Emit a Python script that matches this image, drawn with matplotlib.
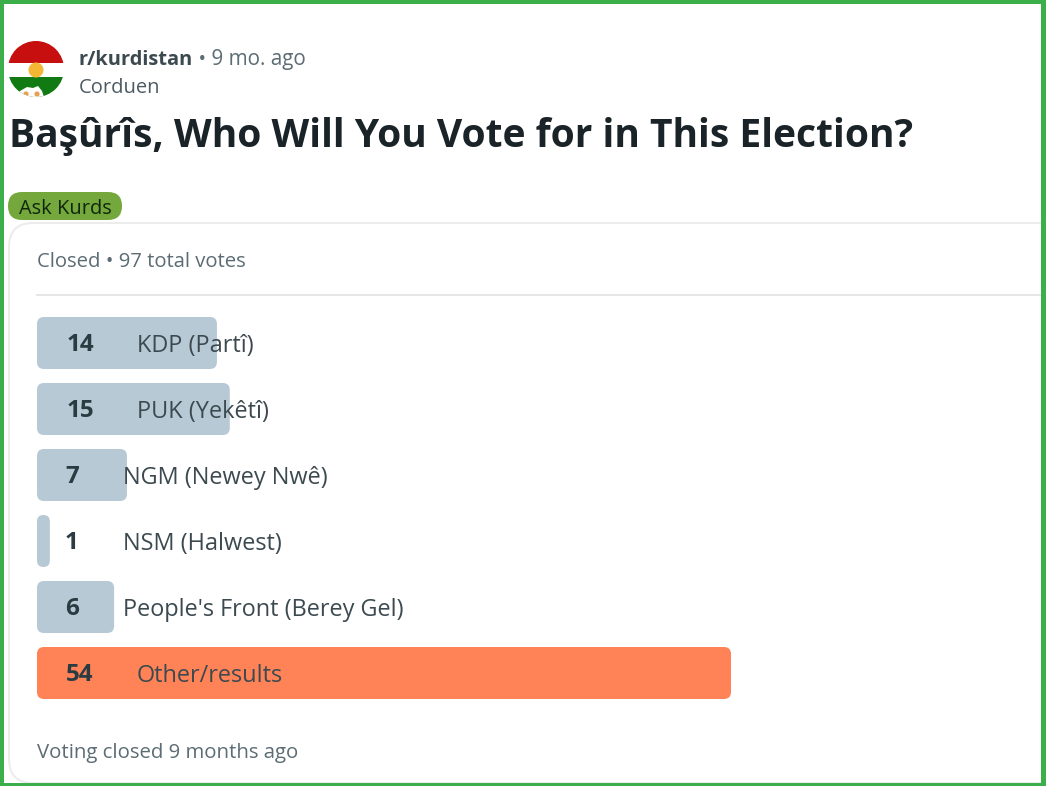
import numpy as np
import matplotlib
matplotlib.use('Agg')
import matplotlib.pyplot as plt
from matplotlib.patches import FancyBboxPatch, Circle, Rectangle, Polygon

plt.rcParams['font.family'] = ['Open Sans', 'Noto Sans', 'DejaVu Sans']

options = ['KDP (Partî)', 'PUK (Yekêtî)', 'NGM (Newey Nwê)', 'NSM (Halwest)',
           "People's Front (Berey Gel)", 'Other/results']
votes = [14, 15, 7, 1, 6, 54]
title = 'Başûrîs, Who Will You Vote for in This Election?'
community = 'r/kurdistan'
age = ' • 9 mo. ago'
author = 'Corduen'
flair = 'Ask Kurds'
poll_status = 'Closed • 97 total votes'
poll_footer = 'Voting closed 9 months ago'

W, H = 1046, 786
px = 1 / 100

fig = plt.figure(figsize=(W * px, H * px), dpi=100, facecolor='white')

# page furniture, in pixel coordinates
bg = fig.add_axes([0, 0, 1, 1])
bg.set_xlim(0, W)
bg.set_ylim(H, 0)
bg.axis('off')

# poll card
bg.add_patch(FancyBboxPatch((9, 223), 1100, 560, boxstyle='round,pad=0,rounding_size=24',
                            fc='white', ec='#ececec', lw=1.5))
bg.plot([37, W], [294.5, 294.5], color='#e4e4e4', lw=1.3)

# flair
bg.add_patch(FancyBboxPatch((8, 192), 114, 28, boxstyle='round,pad=0,rounding_size=14',
                            fc='#74a83c', ec='none'))
bg.text(65, 209, flair, fontsize=14.4, color='#10260c', ha='center', va='center')

# avatar
clip = Circle((36, 69), 28, transform=bg.transData)
parts = [
    Rectangle((8, 41), 56, 22, fc='#c80f0f', ec='none'),
    Rectangle((8, 77), 56, 20, fc='#127a12', ec='none'),
    Polygon([(16, 97), (20, 91), (27, 87), (33, 88), (38, 86), (42, 91), (44, 97)],
            fc='white', ec='none'),
    Circle((36, 70), 7.5, fc='#f4b733', ec='none'),
    Circle((26, 94), 2.6, fc='#e8a050', ec='none'),
    Circle((37, 94), 2.6, fc='#e8a050', ec='none'),
]
for p in parts:
    bg.add_patch(p)
    p.set_clip_path(clip)

# header text
t1 = bg.text(79, 60, community, fontsize=14.4, fontweight='bold', color='#3c4a50', va='center')
bg.annotate(age, xy=(1, 0.5), xycoords=t1, va='center', fontsize=14.9, color='#5c6c74')
bg.text(79, 88, author, fontsize=14.5, color='#4c5a62', va='center')
bg.text(9, 137, title, fontsize=28.1, fontweight='bold', color='#1a2327', va='center')
bg.text(37, 262, poll_status, fontsize=14.6, color='#5c6c74', va='center')
bg.text(37, 753, poll_footer, fontsize=14.65, color='#5c6c74', va='center')

# poll bars: one axes spanning the figure so x is votes and y is row number
x0, unit = 37, 694 / 54
y0, row = 343, 66
ax = fig.add_axes([0, 0, 1, 1])
ax.patch.set_alpha(0)
ax.axis('off')
ax.set_xlim(-x0 / unit, (W - x0) / unit)
ax.set_ylim((H - y0) / row, -y0 / row)

rows = np.arange(len(options))
winner = int(np.argmax(votes))
colors = ['#ff8357' if i == winner else '#b8c9d6' for i in rows]
bars = ax.barh(rows, votes, height=52 / row, color=colors)
for bar in bars:
    # swap square bars for rounded ones of the same size
    bar.set_visible(False)
    ax.add_patch(FancyBboxPatch((bar.get_x(), bar.get_y()), bar.get_width(), bar.get_height(),
                                boxstyle='round,pad=0,rounding_size=%f' % (min(7, bar.get_width() * unit / 2) / unit),
                                mutation_aspect=unit / row, fc=bar.get_facecolor(), ec='none'))

for i, (name, v) in enumerate(zip(options, votes)):
    two_digit = v >= 10
    ax.text((80 if two_digit else 72) / unit - x0 / unit, i + 2 / row, str(v), ha='center', va='center',
            fontsize=17.5, fontweight='bold', color='#2a3c42')
    ax.text((137 if two_digit else 123) / unit - x0 / unit, i + 3 / row, name, ha='left', va='center',
            fontsize=16.9, color='#3c4a50')

# green frame of the screenshot
for r in [(0, 0, W, 4), (0, 0, 4, H), (W - 5, 0, 5, H), (0, H - 3, W, 3)]:
    ax.add_patch(Rectangle((r[0] / unit - x0 / unit, (r[1] - y0) / row), r[2] / unit, r[3] / row,
                           fc='#3cae4a', ec='none', clip_on=False))

fig.savefig('out.png', dpi=100)
